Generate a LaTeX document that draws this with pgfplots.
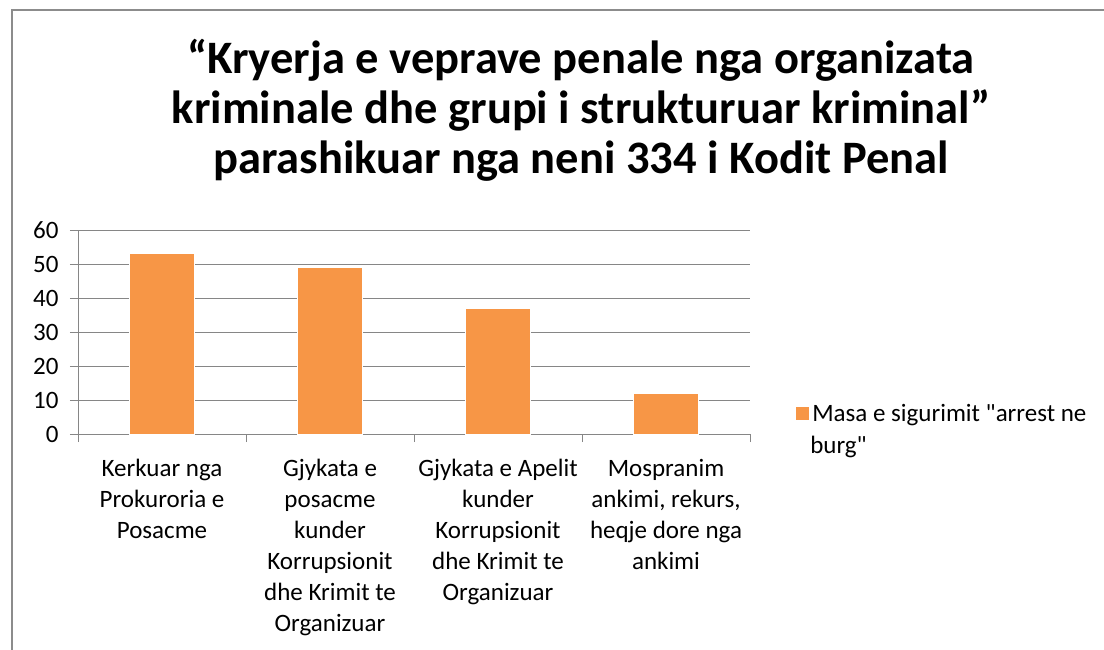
\documentclass[border=0pt]{standalone}
\usepackage{fontspec}
\setmainfont{Carlito}[Ligatures=TeXOff]
\usepackage{pgfplots}
\pgfplotsset{compat=1.18}
\definecolor{barorange}{HTML}{F79646}
\definecolor{gridgray}{HTML}{868686}
\definecolor{framegray}{HTML}{8C8C8C}
\begin{document}
\begin{tikzpicture}
\useasboundingbox (0bp,0bp) rectangle (1104bp,-650bp);
\draw[framegray, line width=2bp] (12bp,-650bp) -- (12bp,-10bp) -- (1104bp,-10bp);
\node[font=\fontsize{46.5bp}{50bp}\selectfont\bfseries, align=center] at (581bp,-110bp)
  {“Kryerja e veprave penale nga organizata\\kriminale dhe grupi i strukturuar kriminal”\\parashikuar nga neni 334 i Kodit Penal};
\begin{axis}[
  at={(78bp,-434bp)}, anchor=south west,
  scale only axis, width=672bp, height=204bp,
  xmin=-0.5, xmax=3.5, ymin=0, ymax=60,
  ytick={0,10,...,60},
  xtick={0,1,2,3},
  xticklabels={{Kerkuar nga\\Prokuroria e\\Posacme},
               {Gjykata e\\posacme\\kunder\\Korrupsionit\\dhe Krimit te\\Organizuar},
               {Gjykata e Apelit\\kunder\\Korrupsionit\\dhe Krimit te\\Organizuar},
               {Mospranim\\ankimi, rekurs,\\heqje dore nga\\ankimi}},
  minor xtick={-0.5,0.5,1.5,2.5,3.5},
  axis lines*=left,
  axis line style={gridgray, line width=1bp},
  ymajorgrids,
  major grid style={gridgray, line width=1bp},
  tick align=outside,
  major tick length=8bp, minor tick length=8bp,
  major x tick style={draw=none},
  minor x tick style={gridgray, line width=1bp},
  ytick style={gridgray, line width=1bp},
  /pgf/number format/assume math mode=true,
  yticklabel style={font=\fontsize{25bp}{30bp}\selectfont, text=black, xshift=-8bp},
  xticklabel style={font=\fontsize{25bp}{31bp}\selectfont, text=black, align=center, yshift=-14bp},
  ybar, bar width=65bp,
  legend style={at={(rel axis cs:1.063,0.165)}, anchor=north west, draw=none, fill=none,
     font=\fontsize{25bp}{32bp}\selectfont, cells={align=left}},
]
\addplot[fill=barorange, draw=white, line width=0.8bp,
  legend image code/.code={\fill[barorange] (0bp,10bp) rectangle (12bp,22bp);}]
  coordinates {(0,53) (1,49) (2,37) (3,12)};
\addlegendentry{\hspace{2bp}Masa e sigurimit "arrest ne\\burg"}
\end{axis}
\end{tikzpicture}
\end{document}
